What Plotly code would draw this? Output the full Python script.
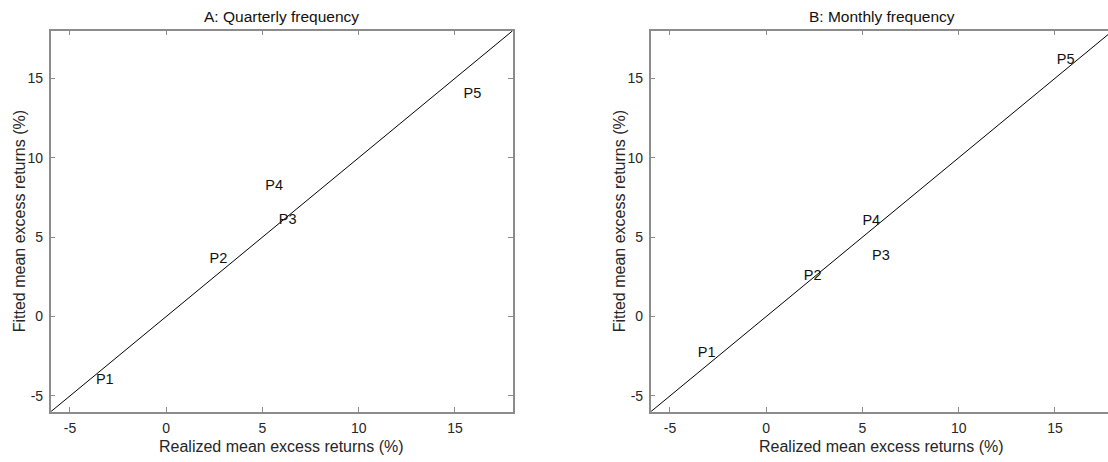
import plotly.graph_objects as go

# ---- data ----
labels = ["P1", "P2", "P3", "P4", "P5"]
quarterly_realized = [-3.65, 2.25, 5.85, 5.15, 15.45]
quarterly_fitted = [-4.0, 3.6, 6.05, 8.2, 14.0]
monthly_realized = [-3.55, 1.95, 5.5, 5.0, 15.1]
monthly_fitted = [-2.35, 2.5, 3.8, 6.0, 16.1]
diag_line = [-6, 18]
tick_values = [-5, 0, 5, 10, 15]
tick_labels = ["-5", "0", "5", "10", "15"]
panel_titles = ["A: Quarterly frequency", "B: Monthly frequency"]
x_title = "Realized mean excess returns (%)"
y_title = "Fitted mean excess returns (%)"

W, H = 1108, 462
FONT = "Liberation Sans, Arial, Helvetica, sans-serif"
AXC = "#8c8c8c"
TXT = "#262626"

fig = go.Figure()

panels = [("x", "y", quarterly_realized, quarterly_fitted),
          ("x2", "y2", monthly_realized, monthly_fitted)]
for xa, ya, xs, ys in panels:
    fig.add_trace(go.Scatter(x=diag_line, y=diag_line, mode="lines",
                             line=dict(color="black", width=1),
                             xaxis=xa, yaxis=ya, showlegend=False, hoverinfo="skip"))
    fig.add_trace(go.Scatter(x=xs, y=ys, mode="text", text=labels,
                             textposition="middle right",
                             textfont=dict(family=FONT, size=14.5, color="#111111"),
                             xaxis=xa, yaxis=ya, showlegend=False))

# panel geometry (pixels)
yb, yt = 411.8, 30.7
ax_common = dict(showline=True, linecolor=AXC, linewidth=1.5,
                 ticks="inside", ticklen=5, tickcolor=AXC, tickwidth=1,
                 showgrid=False, zeroline=False,
                 tickmode="array", tickvals=tick_values, ticktext=tick_labels,
                 tickfont=dict(family=FONT, size=14, color=TXT))

xa_left, xa_right = 50.7, 512.7
xb_left = 650.7
px_per_unit = (xa_right - xa_left) / 24.0
xb_max = -6 + (W - xb_left) / px_per_unit

fig.update_layout(
    width=W, height=H, margin=dict(l=0, r=0, t=0, b=0),
    paper_bgcolor="white", plot_bgcolor="white",
    xaxis=dict(domain=[xa_left / W, xa_right / W], range=[-6, 18],
               anchor="y", mirror="ticks", ticklabelstandoff=3, **ax_common),
    yaxis=dict(domain=[(H - yb) / H, (H - yt) / H], range=[-6, 18],
               anchor="x", mirror="ticks", ticklabelstandoff=3, **ax_common),
    xaxis2=dict(domain=[xb_left / W, 1.0], range=[-6, xb_max],
                anchor="y2", mirror="ticks", ticklabelstandoff=3, **ax_common),
    yaxis2=dict(domain=[(H - yb) / H, (H - yt) / H], range=[-6, 18],
                anchor="x2", mirror=False, ticklabelstandoff=3, **ax_common),
)

annots = []
centers = [(xa_left + xa_right) / 2, (xb_left + xb_left + 462) / 2]
ycent = (yb + yt) / 2
for i, t in enumerate(panel_titles):
    annots.append(dict(text=t, x=centers[i] / W, y=(H - 16) / H, xref="paper", yref="paper",
                       xanchor="center", yanchor="middle", showarrow=False,
                       font=dict(family=FONT, size=15.5, color="#111111")))
    annots.append(dict(text=x_title, x=centers[i] / W, y=(H - 446) / H, xref="paper", yref="paper",
                       xanchor="center", yanchor="middle", showarrow=False,
                       font=dict(family=FONT, size=16, color=TXT)))
    ylx = [19, 619][i]
    annots.append(dict(text=y_title, x=ylx / W, y=(H - ycent) / H, xref="paper", yref="paper",
                       xanchor="center", yanchor="middle", showarrow=False, textangle=-90,
                       font=dict(family=FONT, size=16, color=TXT)))
fig.update_layout(annotations=annots)

fig.write_html("out.html", config={"displayModeBar": False},
               post_script="document.body.style.margin='0px';")
